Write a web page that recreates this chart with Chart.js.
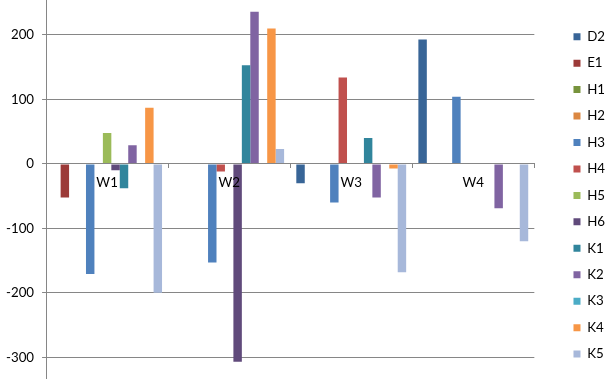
<!DOCTYPE html>
<html>
<head>
<meta charset="utf-8">
<script src="https://cdn.jsdelivr.net/npm/chart.js@4/dist/chart.umd.min.js"></script>
<style>
  html, body { margin: 0; padding: 0; background: #fff; overflow: hidden; width: 615px; height: 379px; }
  #wrap { position: absolute; left: 0; top: -20px; width: 615px; height: 419px; }
</style>
</head>
<body>
<div id="wrap"><canvas id="c" width="615" height="419"></canvas></div>
<script>
const categories = ['W1', 'W2', 'W3', 'W4'];
const seriesNames = ['D2', 'E1', 'H1', 'H2', 'H3', 'H4', 'H5', 'H6', 'K1', 'K2', 'K3', 'K4', 'K5'];
const D2 = [null, null, -30, 193];
const E1 = [-52, null, null, null];
const H1 = [null, null, null, null];
const H2 = [null, null, null, null];
const H3 = [-171, -153, -60, 104];
const H4 = [null, -12, 134, null];
const H5 = [48, null, null, null];
const H6 = [-10, -307, null, null];
const K1 = [-38, 153, 40, null];
const K2 = [29, 236, -52, -69];
const K3 = [null, null, null, null];
const K4 = [87, 210, -7, null];
const K5 = [-200, 23, -168, -120];
const yTicks = [-300, -200, -100, 0, 100, 200];

const seriesValues = [D2, E1, H1, H2, H3, H4, H5, H6, K1, K2, K3, K4, K5];
const colors = ['#386597', '#9C3A38', '#77933C', '#DB8741', '#4F81BD', '#C0504D', '#9BBB59',
                '#604A7B', '#31859C', '#8064A2', '#4BACC6', '#F79646', '#A7B8DA'];

const font = { family: 'Lato', size: 13.3 };
const gridColor = '#868686';

new Chart(document.getElementById('c'), {
  type: 'bar',
  data: {
    labels: categories,
    datasets: seriesNames.map((n, i) => ({
      label: n,
      data: seriesValues[i],
      backgroundColor: colors[i],
      borderWidth: 0,
      categoryPercentage: 0.9,
      barPercentage: 1.0
    }))
  },
  options: {
    responsive: false,
    animation: false,
    devicePixelRatio: 1,
    layout: { padding: { left: -2, right: 0, top: 16.3, bottom: 15.1 } },
    plugins: {
      legend: {
        position: 'right',
        align: 'start',
        title: { display: true, text: ' ', font: { size: 1 }, padding: { top: 19.4, bottom: 0 } },
        labels: {
          boxWidth: 7,
          boxHeight: 7,
          padding: 13.15,
          color: '#000',
          font: font
        }
      },
      tooltip: { enabled: false }
    },
    scales: {
      x: {
        type: 'category',
        position: { y: 0 },
        offset: true,
        grid: { offset: true, drawOnChartArea: false, drawTicks: true, tickLength: 4, color: gridColor, z: 1 },
        border: { color: gridColor, z: 1 },
        ticks: { color: '#000', font: font, padding: 7, maxRotation: 0, z: 1 }
      },
      y: {
        min: -340,
        max: 260,
        afterBuildTicks: (s) => { s.ticks = yTicks.map(v => ({ value: v })); },
        ticks: { stepSize: 100, includeBounds: false, color: '#000', font: font, padding: 8 },
        grid: { color: gridColor, tickLength: 4 },
        border: { color: gridColor }
      },
      yR: {
        position: 'right',
        display: true,
        grid: { display: false },
        border: { display: false },
        ticks: { display: false },
        afterFit: (s) => { s.width = 26; }
      }
    }
  }
});
</script>
</body>
</html>
